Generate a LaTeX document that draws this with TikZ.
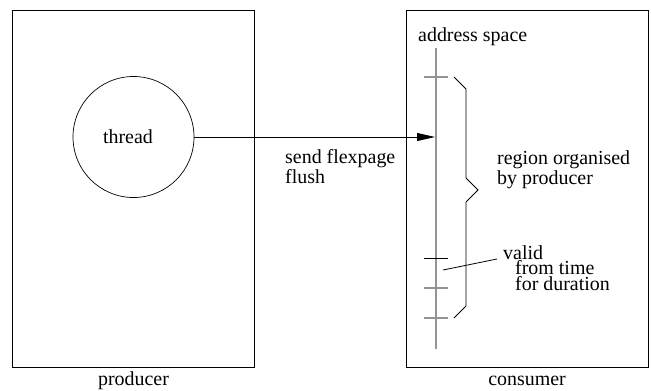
\documentclass[tikz,border=0pt]{standalone}
\usepackage{fontspec}
\setmainfont{Liberation Serif}
\newfontfamily\figfont{Liberation Serif}
\usetikzlibrary{arrows.meta}

\begin{document}
\begin{tikzpicture}[x=1bp, y=-1bp,
    txt/.style={font=\figfont\fontsize{20}{15}\selectfont, inner sep=0pt},
    box/.style={draw, line width=0.8bp, minimum width=242bp, minimum height=357bp, inner sep=0pt},
    axis/.style={draw=gray!85, line width=1.2bp}]
    \useasboundingbox (0,0) rectangle (651,390);

    % --- producer side ---
    \node[box] (producer) at (133.5,188.5) {};
    \node[txt, anchor=base] (prodlabel) at (133.5,385) {producer};
    \node[draw, circle, line width=0.7bp, minimum size=121bp, inner sep=0pt] (thread) at (133.5,137) {};
    \node[txt, anchor=base] (threadlabel) at (128,143) {thread};

    % --- consumer side ---
    \node[box] (consumer) at (527,188.5) {};
    \node[txt, anchor=base] (conslabel) at (527,385) {consumer};
    \node[txt, anchor=base west] (addrlabel) at (418,41) {address space};

    % address space axis with its ticks
    \coordinate (axtop) at (436,48);
    \coordinate (axbot) at (436,349);
    \draw[axis] (axtop) -- (axbot);
    \foreach \y in {77, 288, 318}
        \draw[axis] (424,\y) -- (448,\y);
    \draw[line width=0.8bp] (424,258) -- (448,258);

    % the message
    \coordinate (hit) at (435,137);
    \draw[-{Triangle[length=18bp, width=8bp]}, line width=0.8bp] (thread.east) -- (hit);
    \node[txt, anchor=base west, align=left] (sendlabel) at (285,183) {send flexpage\\flush};

    % brace over the region
    \draw[line width=0.8bp] (454,77) -- (466,89) -- (466,178) -- (478,190)
        -- (466,202) -- (466,306) -- (454,318);
    \node[txt, anchor=base west, align=left, font=\figfont\fontsize{20}{13.5}\selectfont] (regionlabel)
        at (497,184) {region organised\\by producer};

    % one page of the region
    \node[txt, anchor=base west, align=left, font=\figfont\fontsize{20}{13}\selectfont] (validlabel)
        at (503,290) {valid\\\hspace*{12bp}from time\\\hspace*{12bp}for duration};
    \coordinate (validpt) at (443,270);
    \coordinate (validend) at (497,259);
    \draw[line width=0.8bp] (validpt) -- (validend);
\end{tikzpicture}
\end{document}
